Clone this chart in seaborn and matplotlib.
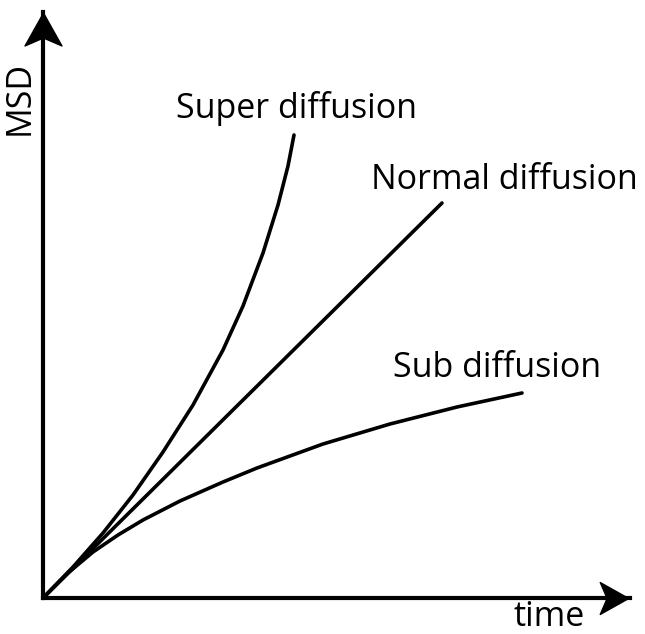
import numpy as np
import pandas as pd
import matplotlib
matplotlib.use("Agg")
import matplotlib.pyplot as plt
import matplotlib.transforms as mtransforms
from matplotlib.path import Path
import seaborn as sns

# Datos (tiempo, MSD) en unidades arbitrarias
t_super = [0, 30, 60, 90, 120, 150, 180, 200, 220, 235, 245, 251]
msd_super = [0, 31, 65, 103, 146, 193, 248, 292, 345, 393, 432, 463]

t_normal = [0, 100, 200, 300, 399]
msd_normal = [0, 99, 198, 297, 395]

t_sub = [0, 25, 50, 75, 100, 137, 180, 214, 280, 347, 414, 479]
msd_sub = [0, 25, 46, 63, 78, 97, 116, 130, 154, 174, 191, 205]

etiquetas = ["Super diffusion", "Normal diffusion", "Sub diffusion"]

df = pd.concat([
    pd.DataFrame({"time": t_super, "MSD": msd_super, "tipo": etiquetas[0]}),
    pd.DataFrame({"time": t_normal, "MSD": msd_normal, "tipo": etiquetas[1]}),
    pd.DataFrame({"time": t_sub, "MSD": msd_sub, "tipo": etiquetas[2]}),
])

sns.set_style("white")
plt.rcParams["font.family"] = ["Open Sans", "DejaVu Sans"]
plt.rcParams["text.color"] = "black"

fig = plt.figure(figsize=(6.45, 6.34), dpi=100)
ax = fig.add_axes([43 / 645, 36 / 634, 587 / 645, 586 / 634])

sns.lineplot(data=df, x="time", y="MSD", hue="tipo", units="tipo",
             estimator=None, sort=False, legend=False,
             palette=["black"] * 3, linewidth=2.6, ax=ax,
             solid_capstyle="round", solid_joinstyle="round")

ax.set_xlim(0, 587)
ax.set_ylim(0, 586)
ax.set_xticks([])
ax.set_yticks([])
ax.set_xlabel("")
ax.set_ylabel("")
for lado in ["top", "right"]:
    ax.spines[lado].set_visible(False)
for lado in ["left", "bottom"]:
    ax.spines[lado].set_linewidth(3.0)
    ax.spines[lado].set_color("black")
    ax.spines[lado].set_capstyle("projecting")

# Puntas de flecha tipo "stealth"
verts = [(0, 16.5), (-18.5, -16.5), (0, -8.5), (18.5, -16.5), (0, 16.5)]
codes = [Path.MOVETO, Path.LINETO, Path.LINETO, Path.LINETO, Path.CLOSEPOLY]
flecha_arriba = Path(verts, codes)
flecha_derecha = flecha_arriba.transformed(mtransforms.Affine2D().rotate_deg(-90))

off_y = mtransforms.ScaledTranslation(0, -16.5 / 100, fig.dpi_scale_trans)
off_x = mtransforms.ScaledTranslation(-16.5 / 100, 0, fig.dpi_scale_trans)
ax.plot([0], [1], marker=flecha_arriba, markersize=26.6, color="black",
        transform=ax.transAxes + off_y, clip_on=False)
ax.plot([1], [0], marker=flecha_derecha, markersize=23, color="black",
        transform=ax.transAxes + off_x, clip_on=False)

# Textos
fs = 24.5
ax.text(133, 480, etiquetas[0], fontsize=fs, ha="left", va="baseline", color="black")
ax.text(328, 409, etiquetas[1], fontsize=fs, ha="left", va="baseline", color="black")
ax.text(350, 221, etiquetas[2], fontsize=fs, ha="left", va="baseline", color="black")
ax.text(-23, 500, "MSD", fontsize=fs, rotation=90, ha="center", va="center",
        color="black", clip_on=False)
ax.text(470, -35.8, "time", fontsize=fs, ha="left", va="bottom", color="black",
        clip_on=False)

fig.savefig("out.png", dpi=100)
